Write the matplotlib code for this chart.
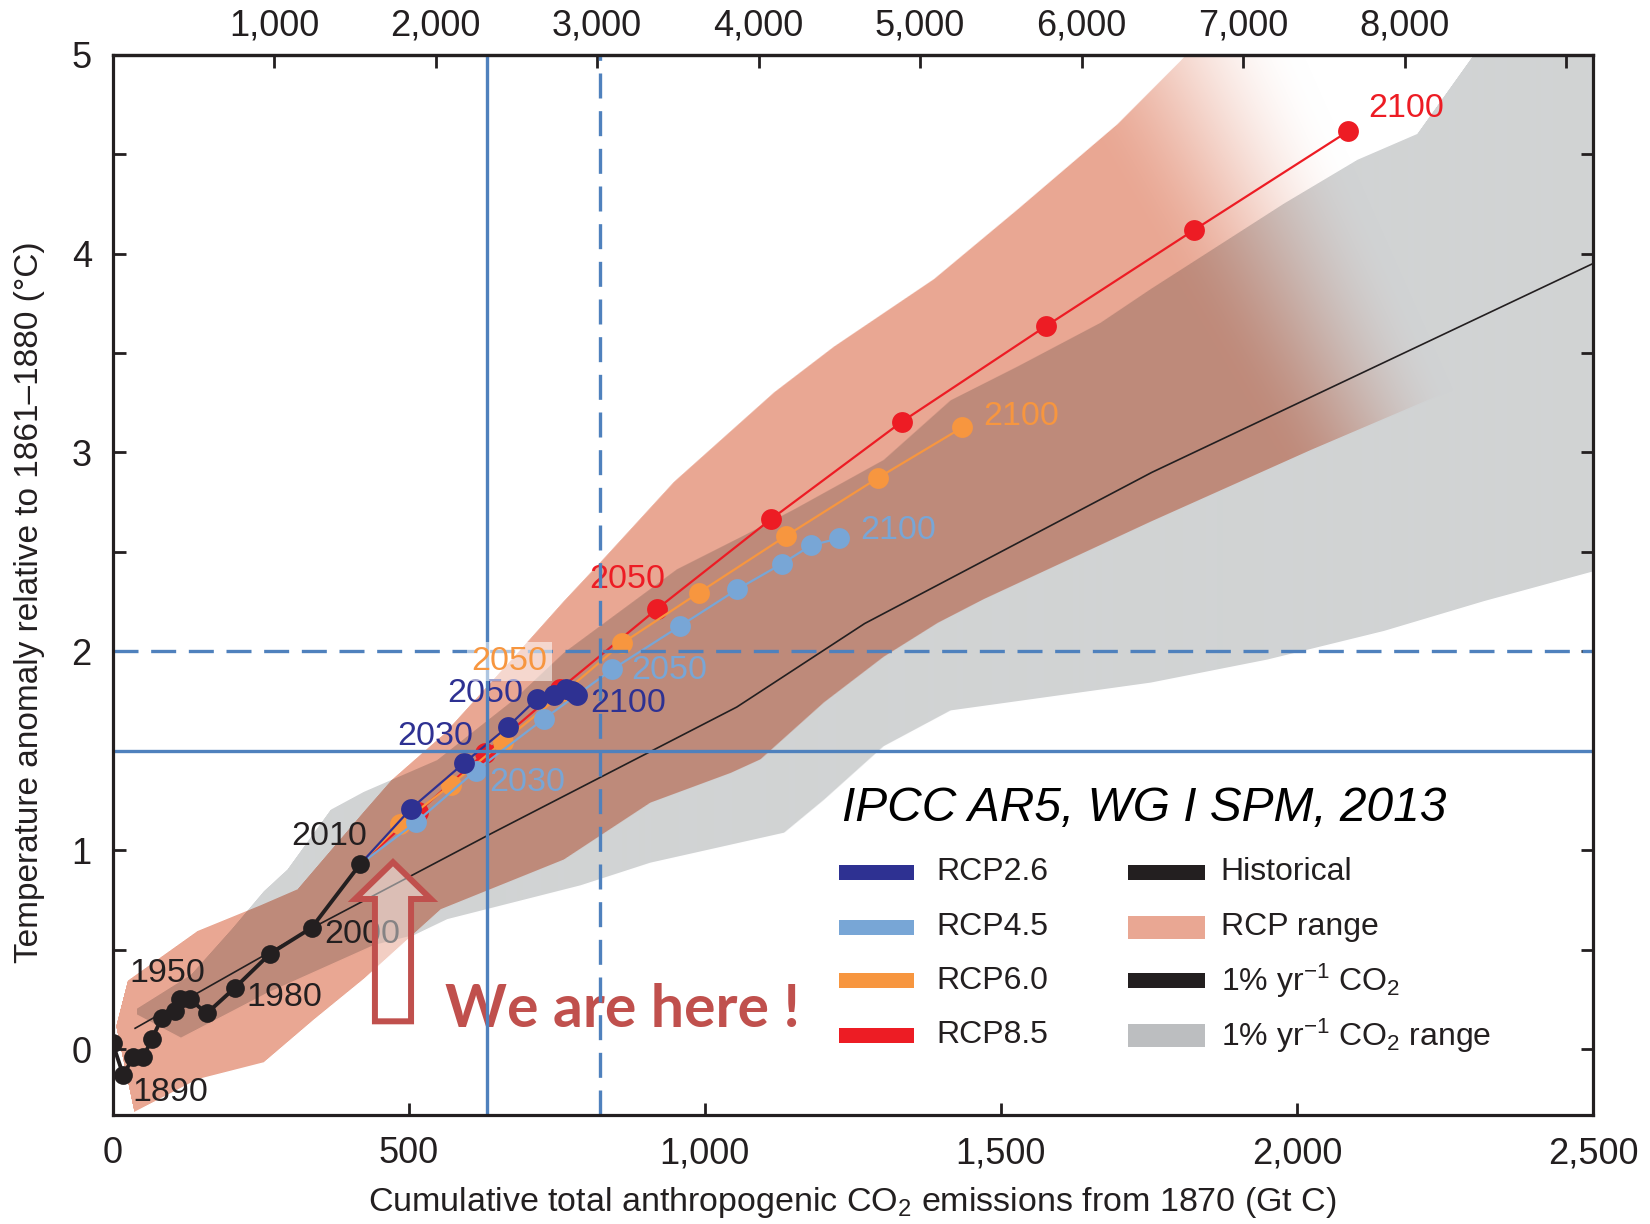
import numpy as np
import matplotlib
matplotlib.use("Agg")
import matplotlib.pyplot as plt
from matplotlib import font_manager as fm
from matplotlib.patches import FancyArrow, Rectangle
from matplotlib.ticker import FixedLocator, FixedFormatter

# ---------------- fonts ----------------
_names = {f.name for f in fm.fontManager.ttflist}
HAS_NARROW = "Liberation Sans Narrow" in _names
NARROW = "Liberation Sans Narrow" if HAS_NARROW else "Liberation Sans"
REG = "Liberation Sans"
BOLDF = "Lato" if "Lato" in _names else "DejaVu Sans"
plt.rcParams["font.family"] = [REG, "DejaVu Sans"]
plt.rcParams["mathtext.fontset"] = "custom"
plt.rcParams["mathtext.rm"] = REG
plt.rcParams["mathtext.it"] = REG + ":italic"
plt.rcParams["mathtext.bf"] = REG + ":bold"

# ---------------- data ----------------
# historical (decadal means 1870 ... 2010)
hist_x = [0, 18, 35, 52, 66, 83, 105, 114, 131, 159, 207, 266, 336, 418]
hist_y = [0.03, -0.13, -0.04, -0.04, 0.05, 0.155, 0.19, 0.25, 0.25, 0.18, 0.31, 0.48, 0.61, 0.93]

# RCP scenarios: 2010, 2020, ..., 2100
rcp26_x = [418, 504, 594, 667, 716, 746, 766, 776, 781, 785]
rcp26_y = [0.93, 1.21, 1.44, 1.62, 1.76, 1.78, 1.81, 1.80, 1.79, 1.78]
rcp45_x = [418, 512, 613, 728, 844, 958, 1055, 1130, 1180, 1227]
rcp45_y = [0.93, 1.14, 1.40, 1.66, 1.91, 2.127, 2.312, 2.44, 2.534, 2.568]
rcp60_x = [418, 485, 572, 659, 765, 860, 990, 1137, 1293, 1435]
rcp60_y = [0.93, 1.13, 1.33, 1.545, 1.80, 2.04, 2.295, 2.58, 2.873, 3.126]
rcp85_x = [418, 515, 629, 755, 920, 1112, 1333, 1576, 1827, 2086]
rcp85_y = [0.93, 1.19, 1.49, 1.81, 2.215, 2.665, 3.155, 3.635, 4.12, 4.614]

# 1% per year CO2 mean line
pct_x = [38, 350, 640, 1054, 1270, 1755, 2500]
pct_y = [0.105, 0.63, 1.085, 1.72, 2.14, 2.90, 3.95]

# RCP range (upper / lower boundaries)
rcp_hi_x = [5, 24, 142, 249, 311, 423, 470, 558, 680, 761, 824, 947, 1116, 1217, 1386, 1527, 1696, 1803, 1900, 2500]
rcp_hi_y = [0.12, 0.34, 0.59, 0.72, 0.80, 1.19, 1.35, 1.58, 1.98, 2.25, 2.45, 2.85, 3.30, 3.53, 3.87, 4.22, 4.65, 4.97, 5.3, 6.5]
rcp_lo_x = [5, 35, 142, 254, 339, 423, 553, 761, 907, 1043, 1093, 1200, 1301, 1392, 1470, 1752, 2022, 2250, 2500]
rcp_lo_y = [0.10, -0.32, -0.155, -0.07, 0.146, 0.35, 0.70, 0.95, 1.236, 1.386, 1.454, 1.74, 1.97, 2.14, 2.26, 2.65, 3.01, 3.30, 3.60]

# 1% per year CO2 range (upper / lower boundaries)
pct_hi_x = [40, 131, 200, 254, 294, 367, 423, 547, 677, 761, 952, 1065, 1149, 1301, 1414, 1527, 1667, 1752, 1909, 1977, 2101, 2202, 2298, 2500]
pct_hi_y = [0.20, 0.37, 0.60, 0.79, 0.90, 1.20, 1.29, 1.45, 1.755, 1.99, 2.41, 2.58, 2.71, 2.96, 3.26, 3.43, 3.65, 3.82, 4.12, 4.25, 4.47, 4.60, 5.0, 5.5]
pct_lo_x = [40, 114, 260, 440, 508, 564, 789, 907, 1133, 1200, 1301, 1414, 1583, 1752, 1949, 2146, 2315, 2500]
pct_lo_y = [0.17, 0.054, 0.28, 0.52, 0.57, 0.65, 0.82, 0.934, 1.085, 1.25, 1.52, 1.70, 1.77, 1.84, 1.956, 2.10, 2.25, 2.40]

# reference lines
ref_x_solid, ref_x_dashed = 632, 823
ref_y_solid, ref_y_dashed = 1.5, 2.0

# year labels: text, x, y, colour
lab_text = ["2100", "2100", "2100", "2050", "2050", "2050", "2050", "2100", "2030", "2030",
            "2010", "2000", "1980", "1950", "1890"]
lab_x = [2120, 1471, 1262, 805, 606, 876, 565, 807, 480, 636, 302, 357, 226, 28, 34]
lab_y = [4.73, 3.18, 2.61, 2.36, 1.95, 1.905, 1.79, 1.74, 1.57, 1.34, 1.07, 0.577, 0.26, 0.38, -0.217]
lab_col = ["r85", "r60", "r45", "r85", "r60", "r45", "r26", "r26", "r26", "r45",
           "hist", "hist", "hist", "hist", "hist"]

x_ticks = [0, 500, 1000, 1500, 2000, 2500]
x_ticklabels = ["0", "500", "1,000", "1,500", "2,000", "2,500"]
top_ticks = [1000, 2000, 3000, 4000, 5000, 6000, 7000, 8000, 9000]
top_ticklabels = ["1,000", "2,000", "3,000", "4,000", "5,000", "6,000", "7,000", "8,000", ""]
y_ticks = [0, 0.5, 1, 1.5, 2, 2.5, 3, 3.5, 4, 4.5, 5]
y_ticklabels = ["0", "", "1", "", "2", "", "3", "", "4", "", "5"]

legend_left = ["RCP2.6", "RCP4.5", "RCP6.0", "RCP8.5"]
legend_right = ["Historical", "RCP range", "1% yr$^{-1}$ CO$_2$", "1% yr$^{-1}$ CO$_2$ range"]

# ---------------- styles ----------------
COL = {"r26": "#2E3192", "r45": "#78A6D6", "r60": "#F7963F", "r85": "#ED1C24", "hist": "#231F20"}
SALMON = np.array([233, 167, 147]) / 255.0
GRAY = np.array([209, 211, 212]) / 255.0
BLUE = "#4F81BD"
SPINE = "#231F20"
XMIN, XMAX, YMIN, YMAX = 0, 2500, -0.333, 5.0

fig = plt.figure(figsize=(16.5, 12.24), dpi=100)
L, R, T, B = 112.6, 1593.0, 54.7, 1115.4
ax = fig.add_axes([L / 1650, 1 - B / 1224, (R - L) / 1650, (B - T) / 1224])
ax.set_xlim(XMIN, XMAX)
ax.set_ylim(YMIN, YMAX)

# ---------------- shaded ranges (multiply blended image) ----------------
nx, ny = 1480, 1061
xs = np.linspace(XMIN, XMAX, nx)
ys = np.linspace(YMIN, YMAX, ny)
X, Y = np.meshgrid(xs, ys)
dy = ys[1] - ys[0]


def coverage(hx, hy, lx, ly):
    hi = np.interp(xs, hx, hy, left=np.nan, right=np.nan)
    lo = np.interp(xs, lx, ly, left=np.nan, right=np.nan)
    c = np.clip((hi[None, :] - Y) / dy + 0.5, 0, 1) * np.clip((Y - lo[None, :]) / dy + 0.5, 0, 1)
    return np.nan_to_num(c)


g_cov = coverage(pct_hi_x, pct_hi_y, pct_lo_x, pct_lo_y)
s_cov = coverage(rcp_hi_x, rcp_hi_y, rcp_lo_x, rcp_lo_y)
x_start = 2560 - 200 * Y
x_end = 2760 - 150 * Y
fade = np.clip((x_end - X) / (x_end - x_start), 0, 1)
fade = fade * fade * (3 - 2 * fade)
a = s_cov * fade

img = np.ones((ny, nx, 3))
img *= (1 - g_cov[..., None]) + g_cov[..., None] * GRAY
img *= (1 - a[..., None]) + a[..., None] * SALMON
ax.imshow(img, extent=(XMIN, XMAX, YMIN, YMAX), origin="lower", aspect="auto",
          interpolation="antialiased", zorder=0)

# ---------------- lines ----------------
ax.plot(pct_x, pct_y, color="#231F20", lw=1.2, zorder=2)

for xx, yy, key, z in [(rcp85_x, rcp85_y, "r85", 3.0), (rcp60_x, rcp60_y, "r60", 3.1),
                       (rcp45_x, rcp45_y, "r45", 3.2), (rcp26_x, rcp26_y, "r26", 3.3)]:
    ax.plot(xx, yy, color=COL[key], lw=1.6, zorder=z)
    ax.plot(xx[1:], yy[1:], "o", color=COL[key], ms=15, mec="none", zorder=z)

ax.plot(hist_x, hist_y, color=COL["hist"], lw=2.8, marker="o", ms=13.5, mec="none", zorder=3.4)

for t, x, y, c in zip(lab_text, lab_x, lab_y, lab_col):
    kw = {}
    if c == "r60" and t == "2050":
        kw["bbox"] = dict(boxstyle="square,pad=0.12", fc="white", ec="none", alpha=0.55)
    ax.text(x, y, t, color=COL[c], fontsize=24.5, family=[REG, "DejaVu Sans"],
            ha="left", va="center", zorder=4.6 if kw else 3.6, **kw)

# reference lines
ax.axvline(ref_x_solid, color=BLUE, lw=2.4, zorder=4.5)
ax.axvline(ref_x_dashed, color=BLUE, lw=2.4, dashes=(7.5, 3.8), zorder=4.5)
ax.axhline(ref_y_solid, color=BLUE, lw=2.4, zorder=4.5)
ax.axhline(ref_y_dashed, color=BLUE, lw=2.4, dashes=(7.5, 3.8), zorder=4.5)

# "We are here" annotation
ax.text(561, 0.197, "We are here !", color="#C0504D", fontsize=42.5, fontweight="bold",
        family=[BOLDF, "DejaVu Sans"], ha="left", va="center", zorder=4.2)
arrow = FancyArrow(473.5, 0.14, 0, 0.80, width=61, head_width=128, head_length=0.185,
                   length_includes_head=True, fc=(1, 1, 1, 0.45), ec="#C0504D", lw=4.3, zorder=6)
ax.add_patch(arrow)

# ---------------- legend (drawn manually) ----------------
tr = ax.transAxes
rows_y = [0.229, 0.1775, 0.127, 0.0754]
hl, hr = 0.0141, 0.0217
LEG_FS = 24 if HAS_NARROW else 23
for i, (lab, key) in enumerate(zip(legend_left, ["r26", "r45", "r60", "r85"])):
    ax.add_patch(Rectangle((0.4907, rows_y[i] - hl / 2), 0.0506, hl, transform=tr,
                           fc=COL[key], ec="none", zorder=7))
    ax.text(0.5566, rows_y[i], lab, transform=tr, fontsize=LEG_FS, ha="left", va="center",
            color="#231F20", zorder=7)
right_cols = [("#231F20", hl), (tuple(SALMON), hr), ("#231F20", hl), ("#BCBEC0", hr)]
for i, lab in enumerate(legend_right):
    fc, h = right_cols[i]
    ax.add_patch(Rectangle((0.686, rows_y[i] - h / 2), 0.052, h, transform=tr,
                           fc=fc, ec="none", zorder=7))
    ax.text(0.7485, rows_y[i], lab, transform=tr, fontsize=LEG_FS, ha="left", va="center",
            color="#231F20", zorder=7)
ax.text(0.4927, 0.289, "IPCC AR5, WG I SPM, 2013", transform=tr,
        fontsize=41 if HAS_NARROW else 34.5,
        style="italic", family=[NARROW, "DejaVu Sans"], ha="left", va="center",
        color="black", zorder=7)

# ---------------- axes styling ----------------
for s in ax.spines.values():
    s.set_linewidth(2.3)
    s.set_color(SPINE)
    s.set_zorder(8)

TICK_FS = 27 if HAS_NARROW else 26
ax.xaxis.set_major_locator(FixedLocator(x_ticks))
ax.xaxis.set_major_formatter(FixedFormatter(x_ticklabels))
ax.yaxis.set_major_locator(FixedLocator(y_ticks))
ax.yaxis.set_major_formatter(FixedFormatter(y_ticklabels))
ax.tick_params(axis="both", which="major", direction="in", length=9, width=2.0, color=SPINE,
               labelsize=TICK_FS, labelcolor="#231F20")
ax.tick_params(axis="y", right=True, pad=15)
ax.tick_params(axis="x", pad=15)
for lbl in ax.get_xticklabels() + ax.get_yticklabels():
    lbl.set_family([NARROW, "DejaVu Sans"])

secax = ax.secondary_xaxis("top", functions=(lambda v: v * 44.0 / 12.0, lambda v: v * 12.0 / 44.0))
secax.xaxis.set_major_locator(FixedLocator(top_ticks))
secax.xaxis.set_major_formatter(FixedFormatter(top_ticklabels))
secax.tick_params(direction="in", length=9, width=2.0, color=SPINE, labelsize=TICK_FS,
                  labelcolor="#231F20", pad=8)
secax.spines["top"].set_linewidth(2.3)
secax.spines["top"].set_color(SPINE)
for lbl in secax.get_xticklabels():
    lbl.set_family([NARROW, "DejaVu Sans"])

fig.text(852 / 1650, 1 - 1203 / 1224, "Cumulative total anthropogenic CO$_2$ emissions from 1870 (Gt C)",
         fontsize=28 if HAS_NARROW else 24.5, family=[NARROW, "DejaVu Sans"],
         ha="center", va="center", color="#231F20")
fig.text(29.5 / 1650, 1 - 602 / 1224, "Temperature anomaly relative to 1861\u20131880 (\u00b0C)",
         fontsize=24, rotation=90, ha="center", va="center", color="#231F20")

fig.savefig("out.png", dpi=100)
